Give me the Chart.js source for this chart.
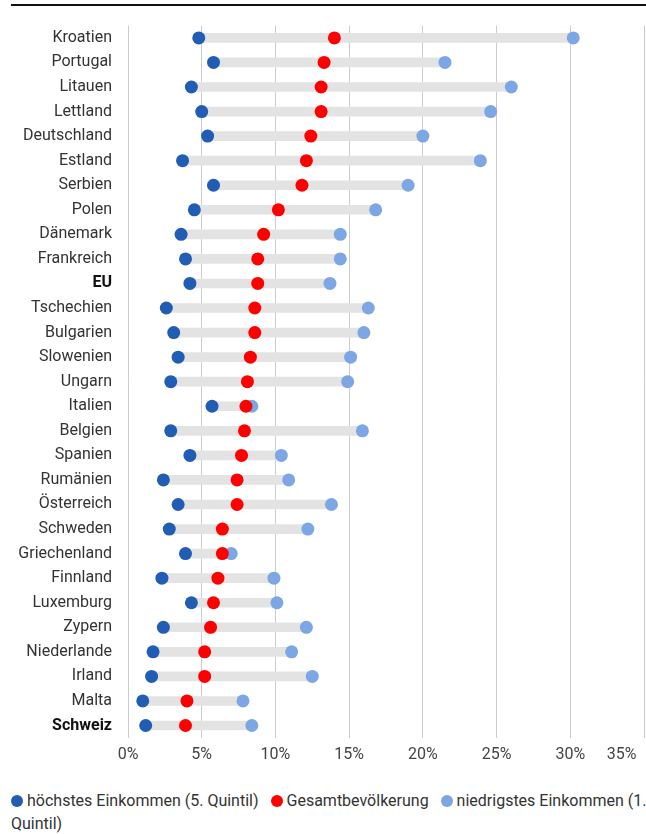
<!DOCTYPE html>
<html>
<head>
<meta charset="utf-8">
<script src="https://cdn.jsdelivr.net/npm/chart.js@4.4.1/dist/chart.umd.min.js"></script>
<style>
  html, body { margin: 0; padding: 0; background: #fff; overflow: hidden; }
  body { width: 646px; height: 834px; position: relative; font-family: Roboto, sans-serif; }
  #rule { position: absolute; left: 11px; top: 4px; width: 640px; height: 0; border-top: 2px solid #111; }
  #wrap { position: absolute; left: 0; top: 0; width: 680px; height: 781px; }
  #legend { position: absolute; left: 11px; top: 789px; width: 640px; font-size: 16px; line-height: 23px; color: #333; }
  #legend span.item { margin-right: 8px; }
  #legend i { display: inline-block; width: 12px; height: 12px; border-radius: 50%; margin-right: 4px; vertical-align: -1px; }
</style>
</head>
<body>
<div id="rule"></div>
<div id="wrap"><canvas id="myChart"></canvas></div>
<div id="legend"></div>
<script>
const countries = ['Kroatien', 'Portugal', 'Litauen', 'Lettland', 'Deutschland', 'Estland', 'Serbien',
  'Polen', 'Dänemark', 'Frankreich', 'EU', 'Tschechien', 'Bulgarien', 'Slowenien', 'Ungarn',
  'Italien', 'Belgien', 'Spanien', 'Rumänien', 'Österreich', 'Schweden', 'Griechenland',
  'Finnland', 'Luxemburg', 'Zypern', 'Niederlande', 'Irland', 'Malta', 'Schweiz'];

// höchstes Einkommen (5. Quintil)
const highIncome = [4.8, 5.8, 4.3, 5.0, 5.4, 3.7, 5.8, 4.5, 3.6, 3.9, 4.2, 2.6, 3.1, 3.4, 2.9,
  5.7, 2.9, 4.2, 2.4, 3.4, 2.8, 3.9, 2.3, 4.3, 2.4, 1.7, 1.6, 1.0, 1.2];
// Gesamtbevölkerung
const totalPop = [14.0, 13.3, 13.1, 13.1, 12.4, 12.1, 11.8, 10.2, 9.2, 8.8, 8.8, 8.6, 8.6, 8.3, 8.1,
  8.0, 7.9, 7.7, 7.4, 7.4, 6.4, 6.4, 6.1, 5.8, 5.6, 5.2, 5.2, 4.0, 3.9];
// niedrigstes Einkommen (1. Quintil)
const lowIncome = [30.2, 21.5, 26.0, 24.6, 20.0, 23.9, 19.0, 16.8, 14.4, 14.4, 13.7, 16.3, 16.0, 15.1, 14.9,
  8.4, 15.9, 10.4, 10.9, 13.8, 12.2, 7.0, 9.9, 10.1, 12.1, 11.1, 12.5, 7.8, 8.4];

const xTicks = [0, 5, 10, 15, 20, 25, 30, 35];
const boldRows = ['EU', 'Schweiz'];

const colHigh = '#215db2';
const colTotal = '#ff0000';
const colLow = '#7ca7e4';

const ranges = countries.map((c, i) => [Math.min(highIncome[i], lowIncome[i]), Math.max(highIncome[i], lowIncome[i])]);

const pointSet = (label, data, color, order) => ({
  type: 'line',
  label,
  data,
  indexAxis: 'y',
  showLine: false,
  backgroundColor: color,
  borderColor: color,
  borderWidth: 0,
  pointRadius: 6.5,
  pointHoverRadius: 6.5,
  pointBorderWidth: 0,
  order,
});

const chart = new Chart(document.getElementById('myChart'), {
  type: 'bar',
  data: {
    labels: countries,
    datasets: [
      pointSet('höchstes Einkommen (5. Quintil)', highIncome, colHigh, 1),
      pointSet('Gesamtbevölkerung', totalPop, colTotal, 0),
      pointSet('niedrigstes Einkommen (1. Quintil)', lowIncome, colLow, 2),
      {
        type: 'bar',
        label: 'range',
        data: ranges,
        backgroundColor: '#e3e3e3',
        borderWidth: 0,
        barThickness: 9,
        order: 5,
      },
    ],
  },
  options: {
    indexAxis: 'y',
    responsive: true,
    maintainAspectRatio: false,
    animation: false,
    layout: { padding: { top: 17, right: 36, bottom: 8, left: 0 } },
    plugins: {
      legend: { display: false },
      tooltip: { enabled: false },
    },
    scales: {
      x: {
        min: 0,
        max: 35,
        afterBuildTicks: (scale) => { scale.ticks = xTicks.map(v => ({ value: v })); },
        afterFit: (scale) => { scale.paddingLeft = 0; scale.paddingRight = 0; },
        grid: { color: '#cccccc', drawTicks: false },
        border: { display: false },
        ticks: {
          padding: 8,
          color: '#444',
          maxRotation: 0,
          minRotation: 0,
          autoSkip: false,
          font: { family: 'Roboto', size: 16 },
          // last label sits left of its gridline, like the original
          callback: (v) => v === 35 ? '35%\u2007\u2007\u2007\u2007\u2007' : v + '%',
        },
      },
      y: {
        grid: { display: false, drawTicks: false },
        border: { display: false },
        afterFit: (scale) => { scale.width = 128; },
        ticks: {
          padding: 16,
          color: (ctx) => boldRows.includes(countries[ctx.index]) ? '#111' : '#333',
          font: (ctx) => ({
            family: 'Roboto',
            size: 16,
            weight: boldRows.includes(countries[ctx.index]) ? 'bold' : 'normal',
          }),
        },
      },
    },
  },
});

// HTML legend so the last entry wraps like the original
const legend = document.getElementById('legend');
legend.innerHTML = chart.data.datasets
  .filter(ds => ds.type === 'line')
  .map(ds => `<span class="item"><i style="background:${ds.backgroundColor}"></i>${ds.label}</span>`)
  .join(' ');
</script>
</body>
</html>
